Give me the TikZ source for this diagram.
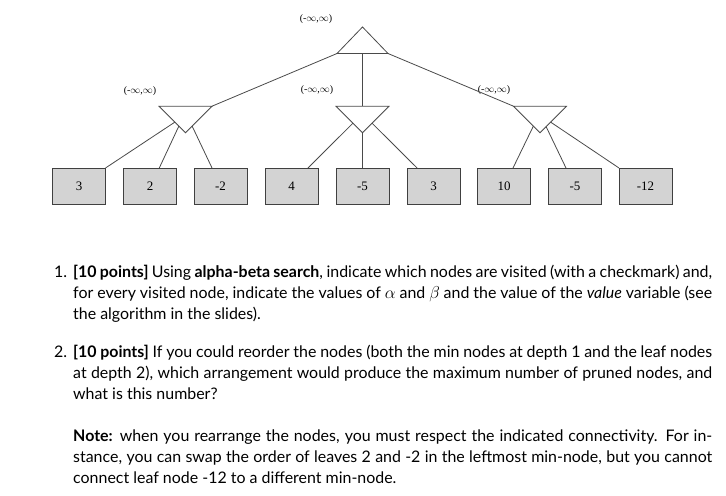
\documentclass[tikz,border=0pt]{standalone}
\usepackage{fontspec}
\setmainfont{Lato}
\newfontfamily\figfont{Liberation Serif}
\usetikzlibrary{shapes.geometric, calc, positioning}
\definecolor{edgegray}{HTML}{4A4A4A}
\definecolor{leafgray}{HTML}{D3D3D3}

\begin{document}
\begin{tikzpicture}[
    x=1bp, y=-1bp,
    tri/.style={isosceles triangle, isosceles triangle stretches, draw=edgegray, line width=0.8bp, inner sep=0pt, outer sep=0pt, minimum height=26.5bp},
    maxnode/.style={tri, rotate=90, anchor=apex, minimum width=51bp},
    minnode/.style={tri, rotate=-90, anchor=apex, minimum width=53bp},
    leaf/.style={draw=black!75, fill=leafgray, line width=0.8bp, minimum width=53bp, minimum height=36bp, inner sep=0pt, outer sep=0pt, font=\figfont\fontsize{13}{13}\selectfont},
    window/.style={inner sep=0pt, font=\figfont\fontsize{10}{10}\selectfont},
    edge/.style={draw=edgegray, line width=0.8bp},
    item/.style={anchor=north west, inner sep=0pt, text width=639bp, align=justify, font=\fontsize{16}{21}\selectfont},
]
    \useasboundingbox (0,0) rectangle (726,496);

    % Max node
    \node[maxnode] (root) at (362.5,27) {};
    \node[window] (wroot) at (316,19) {(-$\infty$,$\infty$)};

    % Min nodes
    \node[minnode] (minl) at (185.5,132.7) {};
    \node[minnode] (minm) at (362.5,132.7) {};
    \node[minnode] (minr) at (540,132.7) {};
    \node[window] (wminl) at (140,91) {(-$\infty$,$\infty$)};
    \node[window] (wminm) at (317,90) {(-$\infty$,$\infty$)};
    \node[window] (wminr) at (494,90) {(-$\infty$,$\infty$)};

    % Leaves
    \node[leaf] (l1) at (79,186) {3};
    \node[leaf] (l2) at (150,186) {2};
    \node[leaf] (l3) at (220.5,186) {-2};
    \node[leaf] (l4) at (291.5,186) {4};
    \node[leaf] (l5) at (362.5,186) {-5};
    \node[leaf] (l6) at (433.5,186) {3};
    \node[leaf] (l7) at (504,186) {10};
    \node[leaf] (l8) at (575,186) {-5};
    \node[leaf] (l9) at (645.5,186) {-12};

    % Root to min nodes
    \draw[edge] (root.left corner) -- (minl.left corner);
    \draw[edge] (root.lower side) -- (minm.lower side);
    \draw[edge] (root.right corner) -- (minr.right corner);

    % Min nodes to leaves
    \draw[edge] ($(minl.right corner)!0.6!(minl.apex)$) -- (l1.north east);
    \draw[edge] ($(minl.right corner)!0.75!(minl.apex)$) -- ($(l2.north)!0.35!(l2.north east)$);
    \draw[edge] ($(minl.left corner)!0.75!(minl.apex)$) -- ($(l3.north)!0.32!(l3.north west)$);
    \draw[edge] ($(minm.right corner)!0.64!(minm.apex)$) -- ($(l4.north)!0.62!(l4.north east)$);
    \draw[edge] (minm.apex) -- (l5.north);
    \draw[edge] ($(minm.left corner)!0.64!(minm.apex)$) -- ($(l6.north)!0.62!(l6.north west)$);
    \draw[edge] ($(minr.right corner)!0.75!(minr.apex)$) -- ($(l7.north)!0.34!(l7.north east)$);
    \draw[edge] ($(minr.left corner)!0.77!(minr.apex)$) -- ($(l8.north)!0.34!(l8.north west)$);
    \draw[edge] ($(minr.left corner)!0.6!(minr.apex)$) -- (l9.north west);

    % Questions
    \node[item] (q1) at (73,263) {\strut\llap{1.\hspace{6bp}}\textbf{[10 points]} Using \textbf{alpha-beta search}, indicate which nodes are visited (with a checkmark) and, for every visited node, indicate the values of $\alpha$ and $\beta$ and the value of the \textit{value} variable (see the algorithm in the slides).};
    \node[item] (q2) at (73,343) {\strut\llap{2.\hspace{6bp}}\textbf{[10 points]} If you could reorder the nodes (both the min nodes at depth 1 and the leaf nodes at depth 2), which arrangement would produce the maximum number of pruned nodes, and what is this number?};
    \node[item] (note) at (73,427) {\strut\textbf{Note:} when you rearrange the nodes, you must respect the indicated connectivity. For instance, you can swap the order of leaves 2 and -2 in the leftmost min-node, but you cannot connect leaf node -12 to a different min-node.};
\end{tikzpicture}
\end{document}
